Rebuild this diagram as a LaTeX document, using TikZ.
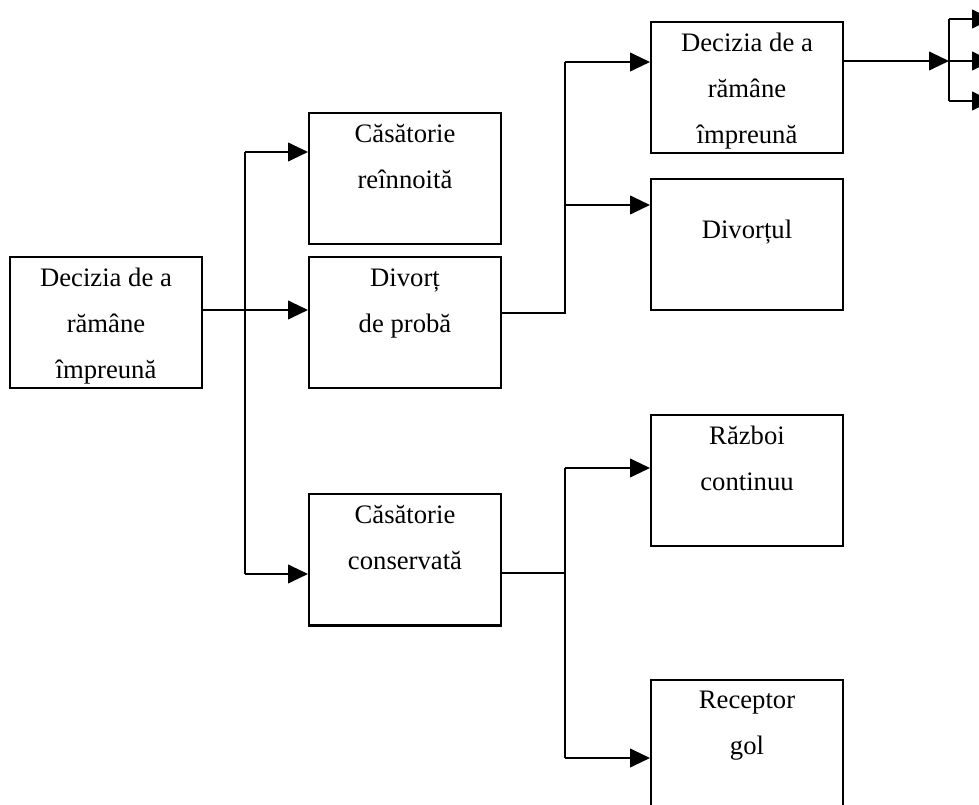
\documentclass[tikz,border=0pt]{standalone}
\usepackage{fontspec}
\setmainfont{Liberation Serif}
\usetikzlibrary{arrows.meta}

\newcommand{\boxtext}[2][21.75pt]{\parbox[c][98pt][t]{144pt}{\centering\rule{0pt}{#1}#2}}

\begin{document}
\begin{tikzpicture}[x=0.75pt,y=-0.75pt,
        box/.style={draw,line width=1.5pt,minimum width=144pt,minimum height=98.25pt,inner sep=0pt,font=\fontsize{20}{34.5}\selectfont},
        link/.style={line width=1.5pt},
        arr/.style={link,-{Triangle[length=15pt,width=14pt]}}]
        \useasboundingbox (0,0) rectangle (979,805);
        \clip (0,0) rectangle (979,805);
        % boxes
        \node[box] (start) at (106,323) {\boxtext{Decizia de a\\rămâne\\împreună}};
        \node[box] (renew) at (405,179) {\boxtext{Căsătorie\\reînnoită}};
        \node[box] (trial) at (405,323) {\boxtext{Divorț\\de probă}};
        \node[box] (kept) at (405,560) {\boxtext{Căsătorie\\conservată}};
        \node[box] (stay) at (747,88) {\boxtext{Decizia de a\\rămâne\\împreună}};
        \node[box] (divorce) at (747,245) {\boxtext[44.25pt]{Divorțul}};
        \node[box] (war) at (747,481) {\boxtext{Război\\continuu}};
        \node[box] (empty) at (747,745) {\boxtext{Receptor\\gol}};
        % first branch
        \coordinate (s1top) at (245,152);
        \coordinate (s1mid) at (245,310);
        \coordinate (s1bot) at (245,574);
        \draw[link] (start.east |- s1mid) -- (s1mid);
        \draw[link] (s1top) -- (s1bot);
        \draw[arr] (s1top) -- (s1top -| renew.west);
        \draw[arr] (s1mid) -- (s1mid -| trial.west);
        \draw[arr] (s1bot) -- (s1bot -| kept.west);
        % second branch
        \coordinate (s2top) at (565,62);
        \coordinate (s2mid) at (565,205);
        \coordinate (s2bot) at (565,313);
        \draw[link] (trial.east |- s2bot) -- (s2bot) -- (s2top);
        \draw[arr] (s2top) -- (s2top -| stay.west);
        \draw[arr] (s2mid) -- (s2mid -| divorce.west);
        % third branch
        \coordinate (s3top) at (565,468);
        \coordinate (s3mid) at (565,573);
        \coordinate (s3bot) at (565,758);
        \draw[link] (kept.east |- s3mid) -- (s3mid);
        \draw[link] (s3top) -- (s3bot);
        \draw[arr] (s3top) -- (s3top -| war.west);
        \draw[arr] (s3bot) -- (s3bot -| empty.west);
        % fourth branch
        \coordinate (s4top) at (949,19);
        \coordinate (s4mid) at (949,61);
        \coordinate (s4bot) at (949,101);
        \coordinate (t1) at (992,19);
        \coordinate (t2) at (992,61);
        \coordinate (t3) at (992,101);
        \draw[arr] (stay.east |- s4mid) -- (s4mid);
        \draw[link] (s4top) -- (s4bot);
        \draw[arr] (s4top) -- (t1);
        \draw[arr] (s4mid) -- (t2);
        \draw[arr] (s4bot) -- (t3);
\end{tikzpicture}
\end{document}
